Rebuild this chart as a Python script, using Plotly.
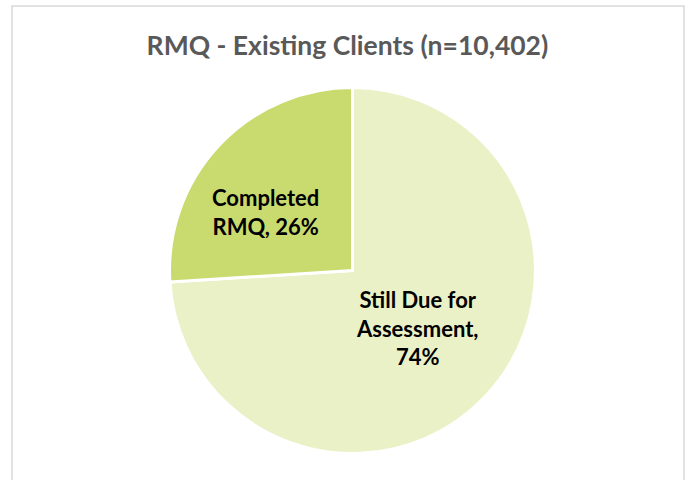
import plotly.graph_objects as go

labels = ["Still Due for Assessment", "Completed RMQ"]
shares = [74, 26]
label_text = ["Still Due for<br>Assessment,<br>74%", "Completed<br>RMQ, 26%"]
colors = ["#EBF1C7", "#C9DB6F"]
# where Excel put each data label (paper fractions)
label_pos = [(0.6061, 0.3167), (0.3866, 0.5583)]

FONT = "Lato"

fig = go.Figure(
    go.Pie(
        labels=labels,
        values=shares,
        textinfo="none",
        sort=False,
        direction="clockwise",
        rotation=0,
        marker=dict(colors=colors, line=dict(color="white", width=3)),
        domain=dict(x=[0.2464, 0.7783], y=[0.0552, 0.8177]),
        hoverinfo="label+percent",
        showlegend=False,
    )
)

for txt, (px_, py_) in zip(label_text, label_pos):
    fig.add_annotation(
        text=f"<b>{txt}</b>",
        x=px_, y=py_, xref="paper", yref="paper",
        xanchor="center", yanchor="middle",
        showarrow=False, align="center",
        font=dict(family=FONT, size=22, color="black"),
    )

fig.update_layout(
    width=688,
    height=480,
    margin=dict(l=0, r=0, t=0, b=0),
    paper_bgcolor="white",
    plot_bgcolor="white",
    title=dict(
        text="<b>RMQ - Existing Clients (n=10,402)</b>",
        x=0.505,
        xanchor="center",
        y=0.905,
        yanchor="middle",
        font=dict(family=FONT, size=26.5, color="#595959"),
    ),
    shapes=[
        dict(
            type="rect", xref="paper", yref="paper",
            x0=12 / 688, x1=684 / 688, y0=-0.05, y1=1 - 6 / 480,
            line=dict(color="#D9D9D9", width=1.5),
        )
    ],
)

# page body has a default 8px margin; drop it so the figure sits at the origin
fig.write_html(
    "out.html",
    config={"displayModeBar": False},
    post_script="document.body.style.margin='0';",
)
